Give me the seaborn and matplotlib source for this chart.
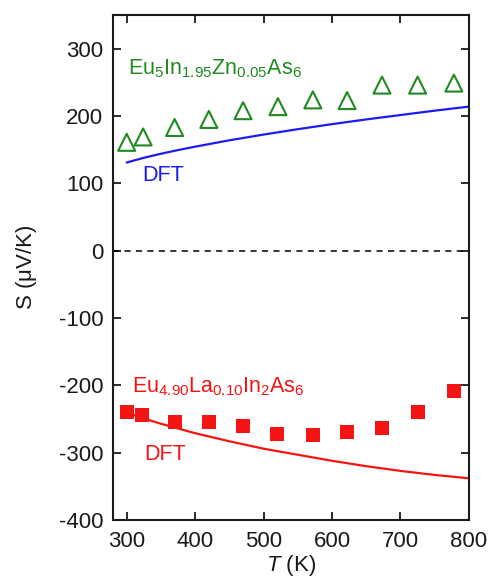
import matplotlib
matplotlib.use("Agg")
import matplotlib.pyplot as plt
import seaborn as sns

# Measured Seebeck coefficient, p-type sample
T_p = [300, 324, 370, 420, 470, 521, 572, 622, 673, 725, 778]
S_p = [161, 169, 183, 195, 208, 214, 224, 223, 246, 246, 249]

# Measured Seebeck coefficient, n-type sample
T_n = [300, 323, 370, 420, 470, 520, 572, 622, 673, 725, 778]
S_n = [-240, -244, -255, -254, -261, -272, -273, -269, -264, -240, -209]

# DFT curves
T_dft = [300, 325, 350, 375, 400, 450, 500, 550, 600, 650, 700, 750, 800]
S_dft_p = [131, 138, 144, 149.5, 154.5, 164, 172.5, 180.5, 188, 195, 201.5, 208, 214]
S_dft_n = [-240, -249, -257, -264, -271, -283, -294, -303, -312, -320, -327, -333, -338]

x_ticks = [300, 400, 500, 600, 700, 800]
y_ticks = [-400, -300, -200, -100, 0, 100, 200, 300]

sns.set_style("ticks")
plt.rcParams["font.family"] = ["Liberation Sans", "DejaVu Sans"]
plt.rcParams["mathtext.fontset"] = "custom"
plt.rcParams["mathtext.rm"] = "Liberation Sans"
plt.rcParams["mathtext.it"] = "Liberation Sans:italic"
plt.rcParams["mathtext.default"] = "regular"
plt.rcParams["axes.unicode_minus"] = False

GREEN = "#1f8a1f"
BLUE = "#1c1cf0"
RED = "#f41414"
INK = "#1a1a1a"
FS_TICK = 16
FS_NOTE = 15.5

fig = plt.figure(figsize=(4.9, 5.79), dpi=100)
ax = fig.add_axes([0.2306, 0.1018, 0.957 - 0.2306, 0.974 - 0.1018])

ax.axhline(0, color="black", lw=1.1, ls=(0, (4, 3.5)), zorder=1)

sns.lineplot(x=T_dft, y=S_dft_p, ax=ax, color=BLUE, lw=1.6, zorder=2)
sns.lineplot(x=T_dft, y=S_dft_n, ax=ax, color=RED, lw=1.6, zorder=2)

sns.scatterplot(x=T_p, y=S_p, ax=ax, marker="^", s=150, facecolor="none",
                edgecolor=GREEN, linewidth=1.5, zorder=3)
sns.scatterplot(x=T_n, y=S_n, ax=ax, marker="s", s=95, color=RED,
                edgecolor=RED, linewidth=0, zorder=3)

ax.text(302, 270, r"Eu$_5$In$_{1.95}$Zn$_{0.05}$As$_6$", color=GREEN,
        fontsize=FS_NOTE, va="center", ha="left")
ax.text(323, 112, "DFT", color=BLUE, fontsize=FS_NOTE, va="center", ha="left")
ax.text(308, -202, r"Eu$_{4.90}$La$_{0.10}$In$_2$As$_6$", color=RED,
        fontsize=FS_NOTE, va="center", ha="left")
ax.text(326, -303, "DFT", color=RED, fontsize=FS_NOTE, va="center", ha="left")

ax.set_xlim(280, 800)
ax.set_ylim(-400, 350)
ax.set_xticks(x_ticks)
ax.set_yticks(y_ticks)
ax.tick_params(direction="in", length=6, width=1.3, top=True, right=True,
               labelsize=FS_TICK, color=INK, labelcolor=INK)
ax.tick_params(axis="x", pad=8)
ax.tick_params(axis="y", pad=7)
for sp in ax.spines.values():
    sp.set_linewidth(1.5)
    sp.set_color(INK)

ax.set_xlabel(r"$\mathit{T}$ (K)", fontsize=FS_TICK, color=INK, labelpad=0.5)
ax.set_ylabel(r"S ($\mu$V/K)", fontsize=FS_TICK, color=INK, labelpad=14)

fig.savefig("out.png", dpi=100)
